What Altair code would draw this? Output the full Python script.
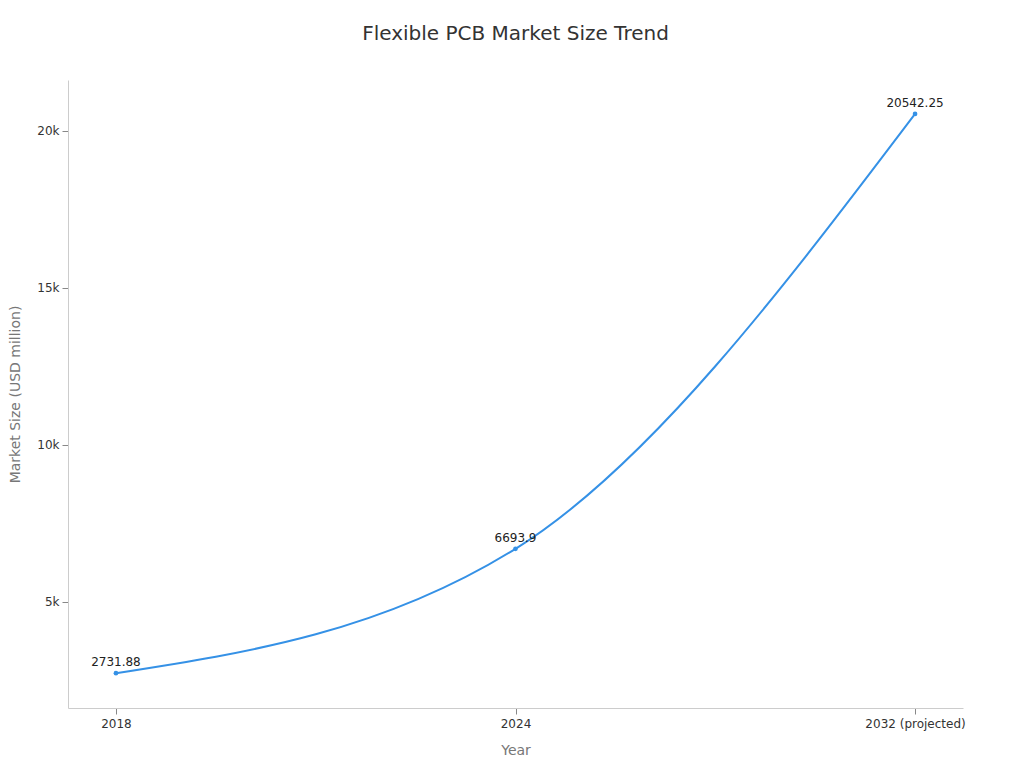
import altair as alt
import pandas as pd

years = ["2018", "2024", "2032 (projected)"]
values = [2731.88, 6693.9, 20542.25]
labels = ["2731.88", "6693.9", "20542.25"]

df = pd.DataFrame({"Year": years, "Value": values, "Label": labels})

FONT = "DejaVu Sans"
COLOR = "#3591e6"

x = alt.X("Year:N", sort=years, title="Year",
          scale=alt.Scale(type="point", padding=0.12),
          axis=alt.Axis(labelAngle=0, labelFontSize=12, labelColor="#333333",
                        titleFontSize=14, titleColor="#777777", titleFontWeight="normal",
                        titlePadding=14, domainColor="#cccccc", tickColor="#888888",
                        tickSize=6, labelPadding=4, grid=False))
y = alt.Y("Value:Q", title="Market Size (USD million)",
          scale=alt.Scale(domain=[1624, 21624], nice=False, zero=False),
          axis=alt.Axis(format="~s", values=[5000, 10000, 15000, 20000],
                        labelFontSize=12, labelColor="#333333",
                        titleFontSize=14, titleColor="#777777", titleFontWeight="normal",
                        titlePadding=14, domainColor="#cccccc", tickColor="#888888",
                        tickSize=6, labelPadding=3, grid=False))

base = alt.Chart(df)
line = base.mark_line(color=COLOR, strokeWidth=2, interpolate="monotone").encode(x=x, y=y)
pts = base.mark_circle(color=COLOR, size=22, opacity=1).encode(x=x, y=y)
txt = base.mark_text(dy=-11, fontSize=12, font=FONT, color="#222222").encode(x=x, y=y, text="Label:N")

chart = (line + pts + txt).properties(
    width=895, height=628,
    autosize=alt.AutoSizeParams(type="none"),
    padding={"left": 60, "top": 72, "right": 53, "bottom": 52},
    title=alt.TitleParams("Flexible PCB Market Size Trend", fontSize=20, font=FONT,
                          fontWeight="normal", color="#333333", offset=36, anchor="middle"),
).configure(font=FONT).configure_view(stroke=None, strokeWidth=0)

chart.save("out.html", embed_options={"renderer": "svg", "actions": False})
